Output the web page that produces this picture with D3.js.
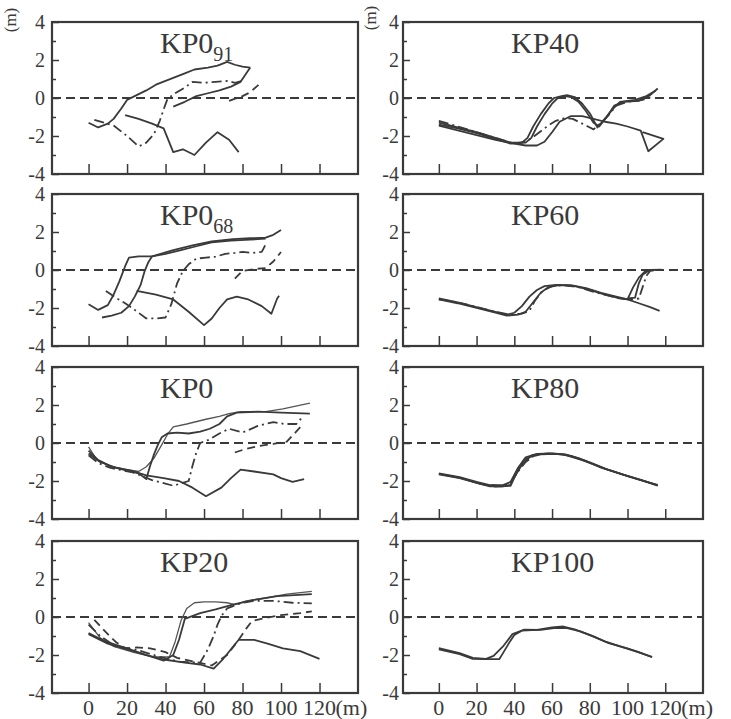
<!DOCTYPE html>
<html><head><meta charset="utf-8">
<script src="https://cdn.jsdelivr.net/npm/d3@7"></script>
<style>html,body{margin:0;padding:0;background:#fff}</style>
</head><body>
<svg id="c" width="731" height="719"></svg>
<script>
// ---------- DATA ----------
const xTickValues = [0, 20, 40, 60, 80, 100, 120];
const yMajorTicks = [-4, -2, 0, 2, 4];
const yMinorTicks = [-3, -1, 1, 3];
const titleMain = ["KP0", "KP40", "KP0", "KP60", "KP0", "KP80", "KP20", "KP100"];
const titleSub  = ["91", "", "68", "", "", "", "", ""];
const unitLabel = "(m)";

// KP0_91
const kp091_a = [[0,-1.3],[5,-1.55],[10,-1.35],[13,-1.1],[17,-0.55],[20,-0.1],[25,0.15],[30,0.4],[35,0.7],[40,0.9],[45,1.1],[50,1.3],[55,1.5],[62,1.6],[67,1.7],[72,1.9],[76,1.75],[80,1.65],[84,1.6]];
const kp091_b = [[44,-0.45],[50,-0.2],[56,0.1],[62,0.25],[68,0.4],[74,0.6],[79,0.85],[84,1.6]];
const kp091_c = [[3,-1.15],[8,-1.3],[13,-1.45],[20,-2.0],[26,-2.55],[30,-2.35],[34,-1.9],[37,-1.2],[39,-0.6],[41,-0.05],[45,0.25],[50,0.55],[54,0.85],[60,0.8],[66,0.85],[72,0.9],[76,0.8],[80,0.9]];
const kp091_d = [[73,-0.15],[77,0.0],[80,0.1],[84,0.3],[90,0.85]];
const kp091_e = [[19,-0.9],[26,-1.1],[33,-1.35],[39,-1.6],[41,-2.1],[44,-2.85],[49,-2.7],[55,-3.0],[61,-2.35],[67,-1.8],[73,-2.2],[78,-2.85]];
// KP40
const kp40_a = [[0,-1.3],[10,-1.55],[20,-1.8],[30,-2.1],[38,-2.35],[44,-2.35],[47,-2.1],[50,-1.5],[54,-0.85],[58,-0.3],[61,0],[65,0.1],[68,0.15],[72,0.05],[76,-0.3],[80,-0.8],[84,-1.55],[88,-1.1],[92,-0.6],[96,-0.2],[104,-0.1],[110,0.1],[115,0.4]];
const kp40_b = [[0,-1.4],[10,-1.6],[20,-1.85],[30,-2.15],[38,-2.4],[46,-2.35],[49,-2.1],[52,-1.5],[56,-0.85],[60,-0.3],[63,0],[67,0.1],[70,0.05],[74,-0.2],[78,-0.7],[82,-1.3],[85,-1.5],[89,-1.0],[93,-0.4],[98,-0.2],[106,-0.15],[112,0.15],[116,0.5]];
const kp40_c = [[0,-1.2],[10,-1.5],[20,-1.8],[30,-2.1],[40,-2.4],[46,-2.3],[50,-2.05],[54,-1.75],[58,-1.45],[62,-1.2],[67,-1.05],[71,-1.1],[75,-1.3],[79,-1.5],[82,-1.65],[86,-1.3],[90,-0.9],[94,-0.4],[100,-0.2],[108,-0.1],[114,0.1]];
const kp40_d = [[0,-1.45],[10,-1.7],[20,-1.95],[30,-2.2],[40,-2.4],[46,-2.5],[52,-2.5],[56,-2.3],[60,-1.8],[64,-1.25],[70,-0.95],[76,-0.95],[82,-1.1],[88,-1.25],[94,-1.35],[100,-1.5],[107,-1.72],[111,-2.8],[119,-2.15],[108,-1.8]];
// KP0_68
const kp068_a = [[0,-1.8],[5,-2.1],[10,-1.85],[13,-1.3],[16,-0.6],[19,0.2],[21,0.65],[26,0.72],[33,0.72],[44,1.05],[54,1.3],[64,1.5],[75,1.62],[84,1.67],[92,1.7],[96,1.85],[100,2.1]];
const kp068_b = [[7,-2.5],[12,-2.4],[17,-2.25],[21,-1.9],[24,-1.4],[27,-0.8],[29,-0.1],[31,0.4],[33,0.72],[40,0.85],[48,1.05],[56,1.25],[64,1.45],[74,1.55],[84,1.6],[92,1.65]];
const kp068_c = [[9,-1.1],[14,-1.45],[19,-1.75],[24,-2.1],[30,-2.55],[35,-2.55],[40,-2.5],[43,-1.8],[46,-0.7],[49,-0.05],[52,0.3],[56,0.6],[61,0.65],[66,0.7],[71,0.85],[76,0.9],[80,0.95],[85,0.9],[90,0.95],[92,1.35]];
const kp068_d = [[76,-0.45],[80,-0.05],[86,0.05],[92,0.1],[96,0.45],[100,0.95]];
const kp068_e = [[25,-1.1],[35,-1.3],[44,-1.55],[52,-2.2],[60,-2.9],[64,-2.55],[68,-2.0],[72,-1.55],[77,-1.4],[83,-1.55],[90,-1.9],[95,-2.3],[98,-1.5],[99,-1.35]];
// KP60
const kp60_a = [[0,-1.5],[10,-1.7],[20,-1.95],[30,-2.2],[36,-2.35],[40,-2.25],[44,-1.9],[48,-1.4],[52,-1.05],[56,-0.85],[62,-0.78],[70,-0.8],[78,-0.95],[86,-1.2],[94,-1.4],[100,-1.55],[106,-1.75],[112,-1.95],[117,-2.15]];
const kp60_b = [[0,-1.55],[10,-1.75],[20,-2.0],[30,-2.25],[36,-2.4],[42,-2.35],[46,-2.2],[50,-1.7],[54,-1.2],[58,-0.9],[64,-0.8],[72,-0.85],[80,-1.05],[88,-1.3],[96,-1.5],[100,-1.55],[103,-0.9],[106,-0.4],[109,-0.1],[112,0],[118,0.02]];
const kp60_c = [[0,-1.55],[10,-1.7],[20,-1.95],[30,-2.2],[38,-2.35],[44,-2.3],[48,-2.15],[51,-1.6],[55,-1.1],[60,-0.85],[66,-0.8],[74,-0.9],[82,-1.15],[90,-1.35],[96,-1.5],[102,-1.55],[106,-1.5],[108,-0.9],[110,-0.3],[112,-0.05],[115,0]];
const kp60_d = [[100,-1.5],[104,-1.45],[106,-0.7],[108,-0.25],[111,-0.05],[113,0]];
// KP0
const kp0_a = [[0,-0.2],[4,-0.85],[11,-1.2],[20,-1.4],[26,-1.5],[30,-1.25],[34,-0.8],[38,-0.1],[41,0.45],[44,0.85],[51,1.0],[61,1.25],[68,1.4],[73,1.55],[79,1.65],[92,1.65],[101,1.8],[115,2.1]];
const kp0_b = [[0,-0.4],[5,-0.9],[12,-1.25],[20,-1.45],[26,-1.6],[30,-1.9],[32,-1.2],[34,-0.6],[36,-0.1],[38,0.3],[41,0.5],[46,0.55],[52,0.5],[58,0.6],[63,0.75],[68,1.0],[72,1.4],[77,1.6],[88,1.65],[100,1.6],[115,1.55]];
const kp0_c = [[0,-0.65],[5,-1.05],[11,-1.3],[23,-1.55],[33,-1.95],[44,-2.25],[52,-2.0],[54,-1.2],[56,-0.5],[58,0],[62,0.15],[68,0.5],[73,0.75],[80,0.55],[88,0.9],[96,1.1],[102,1.0],[108,1.0],[111,1.35]];
const kp0_d = [[76,-0.5],[82,-0.3],[89,-0.15],[96,-0.05],[103,0.07],[107,0.5],[111,0.95]];
const kp0_e = [[0,-0.55],[6,-1.0],[14,-1.3],[22,-1.45],[30,-1.7],[39,-1.85],[47,-2.0],[54,-2.35],[61,-2.8],[69,-2.35],[74,-1.85],[79,-1.4],[86,-1.5],[96,-1.65],[100,-1.85],[106,-2.05],[112,-1.9]];
// KP80
const kp80_a = [[0,-1.6],[11,-1.8],[20,-2.05],[27,-2.22],[34,-2.22],[38,-2.05],[42,-1.3],[46,-0.75],[52,-0.57],[60,-0.55],[67,-0.6],[74,-0.8],[82,-1.1],[90,-1.42],[99,-1.7],[108,-1.97],[116,-2.23]];
const kp80_b = [[0,-1.65],[11,-1.85],[20,-2.1],[27,-2.28],[34,-2.28],[38,-2.2],[40,-1.8],[44,-1.15],[48,-0.75],[54,-0.6],[62,-0.57],[70,-0.68],[78,-0.95],[86,-1.3],[94,-1.55],[102,-1.8],[110,-2.05],[116,-2.25]];
const kp80_c = [[0,-1.62],[12,-1.85],[22,-2.15],[30,-2.3],[38,-2.25],[41,-1.6],[45,-0.9],[50,-0.62],[58,-0.55],[66,-0.6],[76,-0.9],[88,-1.35],[100,-1.75],[112,-2.1],[116,-2.2]];
const kp80_d = [[28,-2.2],[34,-2.3],[38,-2.1],[42,-1.5],[46,-1.0],[50,-0.7]];
// KP20
const kp20_a = [[0,-0.3],[6,-1.1],[13,-1.55],[23,-1.85],[33,-2.1],[42,-2.1],[45,-1.3],[48,-0.2],[51,0.45],[55,0.75],[60,0.8],[66,0.8],[72,0.75],[76,0.65],[82,0.85],[92,1.0],[103,1.2],[116,1.35]];
const kp20_b = [[0,-0.85],[9,-1.3],[20,-1.65],[30,-2.0],[39,-2.3],[44,-2.0],[47,-1.2],[50,-0.1],[58,0.2],[66,0.4],[75,0.65],[86,0.9],[98,1.1],[116,1.2]];
const kp20_c = [[0,-0.4],[6,-1.0],[14,-1.55],[26,-1.75],[37,-2.1],[47,-2.35],[58,-2.4],[62,-1.7],[65,-1.0],[67,-0.4],[69,0.05],[72,0.45],[79,0.72],[86,0.85],[96,0.85],[106,0.75],[116,0.72]];
const kp20_d = [[3,-0.15],[9,-0.8],[14,-1.3],[19,-1.65],[25,-1.6],[32,-1.65],[40,-1.85],[46,-2.15],[55,-2.35],[64,-2.55],[72,-2.0],[78,-1.2],[82,-0.6],[85,-0.2],[92,-0.05],[100,0.1],[110,0.2],[116,0.3]];
const kp20_e = [[0,-0.9],[10,-1.4],[20,-1.7],[30,-2.0],[40,-2.25],[50,-2.4],[58,-2.5],[65,-2.72],[70,-2.2],[74,-1.7],[78,-1.2],[86,-1.2],[93,-1.4],[101,-1.65],[110,-1.8],[120,-2.2]];
// KP100
const kp100_a = [[0,-1.64],[11,-1.9],[18,-2.15],[25,-2.2],[29,-2.05],[34,-1.55],[39,-0.9],[45,-0.67],[54,-0.68],[61,-0.58],[68,-0.58],[75,-0.76],[82,-1.02],[90,-1.38],[99,-1.62],[106,-1.85],[113,-2.12]];
const kp100_b = [[0,-1.7],[11,-1.95],[18,-2.2],[25,-2.22],[32,-2.22],[34,-1.9],[37,-1.4],[40,-0.95],[44,-0.72],[52,-0.68],[60,-0.55],[66,-0.5],[72,-0.65],[80,-0.95],[88,-1.28],[96,-1.55],[104,-1.8],[113,-2.1]];

const panelSeries = [
  [kp091_a, kp091_b, kp091_c, kp091_d, kp091_e],
  [kp40_a, kp40_b, kp40_c, kp40_d],
  [kp068_a, kp068_b, kp068_c, kp068_d, kp068_e],
  [kp60_a, kp60_b, kp60_c, kp60_d],
  [kp0_a, kp0_b, kp0_c, kp0_d, kp0_e],
  [kp80_a, kp80_b, kp80_c, kp80_d],
  [kp20_a, kp20_b, kp20_c, kp20_d, kp20_e],
  [kp100_a, kp100_b]
];

// ---------- STYLE / LAYOUT ----------
const panelStyles = [
  ["s","s","dd","d","s"], ["s","s","dd","s"],
  ["s","s","dd","d","s"], ["s","s","dd","s"],
  ["t","s","dd","d","s"], ["s","s","s","dd"],
  ["t","s","dd","d","s"], ["s","s"]
];
const dashFor = {s:null, t:null, d:"8,5", dd:"10,4,2,4"};
const colX = [[52,358],[403,703]];
const rowTop = [22,194,367,541];
const panelH = 152;
const labelGap = [7,4];
const FONT = "'Liberation Serif','Times New Roman',serif";
const INK = "#3a3a3a";

const svg = d3.select("#c");
svg.append("rect").attr("width",731).attr("height",719).attr("fill","#fff");

panelSeries.forEach((series, i) => {
  const col = i % 2, row = Math.floor(i / 2);
  const [x0, x1] = colX[col];
  const top = rowTop[row], bot = top + panelH;
  const x = d3.scaleLinear().domain([-19, 140]).range([x0, x1]);
  const y = d3.scaleLinear().domain([-4, 4]).range([bot, top]);
  const g = svg.append("g");

  g.append("line").attr("x1",x0).attr("x2",x1).attr("y1",y(0)).attr("y2",y(0))
    .attr("stroke",INK).attr("stroke-width",1.8).attr("stroke-dasharray","9,5");

  const line = d3.line().x(d => x(d[0])).y(d => y(d[1]));
  series.forEach((pts, k) => {
    const st = panelStyles[i][k];
    g.append("path").attr("d", line(pts)).attr("fill","none")
      .attr("stroke", st === "t" ? "#555" : INK)
      .attr("stroke-width", st === "t" ? 1.3 : 1.8)
      .attr("stroke-linejoin","round")
      .attr("stroke-dasharray", dashFor[st]);
  });

  const yAxis = d3.axisRight(y).tickValues(yMajorTicks).tickSize(7).tickFormat("");
  g.append("g").attr("transform",`translate(${x0},0)`).call(yAxis)
    .call(a => a.select(".domain").remove())
    .selectAll("line").attr("stroke",INK).attr("stroke-width",1.5);
  const yAxisMinor = d3.axisRight(y).tickValues(yMinorTicks).tickSize(4).tickFormat("");
  g.append("g").attr("transform",`translate(${x0},0)`).call(yAxisMinor)
    .call(a => a.select(".domain").remove())
    .selectAll("line").attr("stroke",INK).attr("stroke-width",1.5);
  g.selectAll("text.yl").data(yMajorTicks).join("text").attr("class","yl")
    .attr("x", x0 - labelGap[col]).attr("y", d => y(d)).attr("dy","0.36em")
    .attr("text-anchor","end").attr("font-family",FONT).attr("font-size",20)
    .attr("fill",INK).text(d => String(d));

  const xAxis = d3.axisTop(x).tickValues(xTickValues).tickSize(10).tickFormat("");
  g.append("g").attr("transform",`translate(0,${bot})`).call(xAxis)
    .call(a => a.select(".domain").remove())
    .selectAll("line").attr("stroke",INK).attr("stroke-width",1.5);

  if (row === 3) {
    g.selectAll("text.xl").data(xTickValues).join("text").attr("class","xl")
      .attr("x", d => x(d)).attr("y", 715).attr("text-anchor","middle")
      .attr("font-family",FONT).attr("font-size",22).attr("fill",INK).text(d => String(d));
    g.append("text").attr("x", x(120) + 16).attr("y", 715)
      .attr("font-family",FONT).attr("font-size",22).attr("fill",INK).text(unitLabel);
  }
  if (row === 0) {
    const ux = col === 0 ? 10 : 370, uy = col === 0 ? 20 : 18;
    g.append("text").attr("transform",`translate(${ux},${uy}) rotate(-90)`)
      .attr("text-anchor","middle").attr("dy","0.35em")
      .attr("font-family",FONT).attr("font-size",17).attr("fill",INK).text(unitLabel);
  }

  g.append("rect").attr("x",x0).attr("y",top).attr("width",x1-x0).attr("height",panelH)
    .attr("fill","none").attr("stroke",INK).attr("stroke-width",2.2);

  const t = g.append("text").attr("x", x0 + 108).attr("y", top + 31)
    .attr("font-family",FONT).attr("font-size",30).attr("fill",INK);
  t.append("tspan").text(titleMain[i]);
  if (titleSub[i]) t.append("tspan").attr("font-size",20).attr("dy",8).text(titleSub[i]);
});
</script>
</body></html>
